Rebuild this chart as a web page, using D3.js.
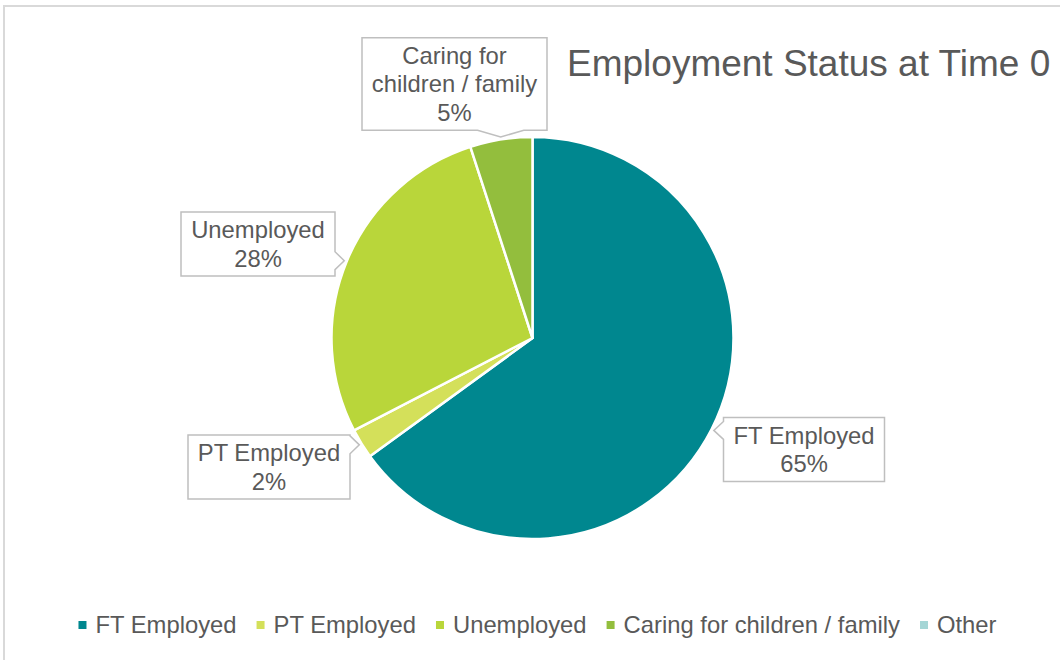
<!DOCTYPE html>
<html>
<head>
<meta charset="utf-8">
<script src="https://cdn.jsdelivr.net/npm/d3@7"></script>
<style>
  html, body { margin: 0; padding: 0; background: #fff; }
  svg text { font-family: "Liberation Sans", Arial, sans-serif; fill: #595959; }
</style>
</head>
<body>
<div id="chart"></div>
<script>
var categories = ["FT Employed", "PT Employed", "Unemployed", "Caring for children / family", "Other"];
var values = [65, 2.4, 27.6, 5, 0];
var colors = ["#00878f", "#d4e05a", "#b9d63a", "#93be3d", "#a5d6d6"];
var title = "Employment Status at Time 0";

var width = 1060, height = 660;
var cx = 532.5, cy = 338, radius = 201;

var svg = d3.select("#chart").append("svg")
    .attr("width", width)
    .attr("height", height);

// chart frame (cropped at right / bottom)
svg.append("rect")
    .attr("x", 4).attr("y", 6)
    .attr("width", 1100).attr("height", 700)
    .attr("fill", "#fff")
    .attr("stroke", "#d9d9d9")
    .attr("stroke-width", 2);

svg.append("text")
    .attr("x", 567)
    .attr("y", 76)
    .style("font-size", "37px")
    .text(title);

var data = categories.map(function(c, i) {
    return { name: c, value: values[i], color: colors[i] };
});

var pie = d3.pie().sort(null).value(function(d) { return d.value; });
var arc = d3.arc().innerRadius(0).outerRadius(radius);
var arcs = pie(data);

var g = svg.append("g").attr("transform", "translate(" + cx + "," + cy + ")");

g.selectAll("path.slice")
    .data(arcs.filter(function(d) { return d.data.value > 0; }))
    .enter().append("path")
    .attr("class", "slice")
    .attr("d", arc)
    .attr("fill", function(d) { return d.data.color; })
    .attr("stroke", "#fff")
    .attr("stroke-width", 2.5)
    .attr("stroke-linejoin", "round");

// callout box placement (box centre, relative to svg)
var boxCentre = {
    "FT Employed": [804, 449.5],
    "PT Employed": [269, 467],
    "Unemployed": [258, 244],
    "Caring for children / family": [454.5, 84]
};
var labelLines = {
    "Caring for children / family": ["Caring for", "children / family"]
};

var fontSize = 23.8, lineH = 28.5;

arcs.filter(function(d) { return d.data.value > 0; }).forEach(function(d) {
    var name = d.data.name;
    var lines = (labelLines[name] || [name]).concat([Math.round(d.data.value) + "%"]);
    var mid = (d.startAngle + d.endAngle) / 2;
    var tip = [cx + Math.sin(mid) * (radius + 2.5), cy - Math.cos(mid) * (radius + 2.5)];

    var lg = svg.append("g");
    var texts = lg.selectAll("text").data(lines).enter().append("text")
        .attr("text-anchor", "middle")
        .style("font-size", fontSize + "px")
        .text(function(t) { return t; });
    var tw = d3.max(texts.nodes(), function(n) { return n.getComputedTextLength(); });
    var w = Math.round(tw + 20), h = lines.length * lineH + 7;
    var c = boxCentre[name];
    var x0 = c[0] - w / 2, y0 = c[1] - h / 2, x1 = x0 + w, y1 = y0 + h;

    texts.attr("x", c[0])
        .attr("y", function(t, i) { return y0 + 3.5 + lineH * (i + 0.5); })
        .attr("dy", "0.35em");

    // outline with pointer notch on the edge facing the tip
    var pts;
    if (tip[1] > y1) {
        var bw = w * 0.25, m = Math.max(x0 + bw / 2, Math.min(x1 - bw / 2, tip[0]));
        pts = [[x0, y0], [x1, y0], [x1, y1], [m + bw / 2, y1], tip, [m - bw / 2, y1], [x0, y1]];
    } else if (tip[0] > x1) {
        var bh = h * 0.28, my = Math.max(y0 + bh / 2, Math.min(y1 - bh / 2, tip[1]));
        pts = [[x0, y0], [x1, y0], [x1, my - bh / 2], tip, [x1, my + bh / 2], [x1, y1], [x0, y1]];
    } else {
        var bh2 = h * 0.28, my2 = Math.max(y0 + bh2 / 2, Math.min(y1 - bh2 / 2, tip[1]));
        pts = [[x0, y0], [x1, y0], [x1, y1], [x0, y1], [x0, my2 + bh2 / 2], tip, [x0, my2 - bh2 / 2]];
    }
    lg.insert("path", "text")
        .attr("d", d3.line()(pts) + "Z")
        .attr("fill", "#fff")
        .attr("stroke", "#bfbfbf")
        .attr("stroke-width", 1.5);
});

// legend
var legend = svg.append("g");
var items = legend.selectAll("g.item").data(data).enter().append("g").attr("class", "item");
items.append("rect")
    .attr("width", 8).attr("height", 8)
    .attr("y", 621)
    .attr("fill", function(d) { return d.color; });
items.append("text")
    .attr("y", 633)
    .style("font-size", fontSize + "px")
    .text(function(d) { return d.name; });

var gap = 20;
var xpos = 0, offsets = [];
items.each(function() {
    offsets.push(xpos);
    var t = d3.select(this).select("text").node().getComputedTextLength();
    xpos += 8 + 9 + t + gap;
});
var total = xpos - gap;
var startX = 537.5 - total / 2;
items.each(function(d, i) {
    var s = d3.select(this);
    s.select("rect").attr("x", startX + offsets[i]);
    s.select("text").attr("x", startX + offsets[i] + 17);
});
</script>
</body>
</html>
